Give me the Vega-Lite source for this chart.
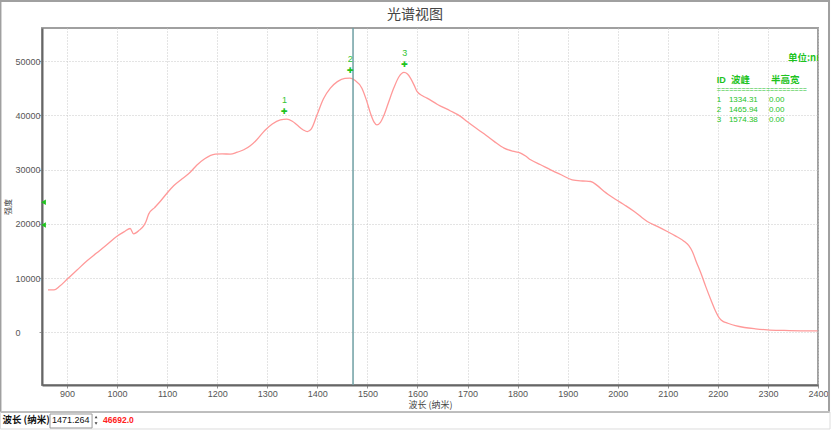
{
  "$schema": "https://vega.github.io/schema/vega-lite/v6.json",
  "width": 776,
  "height": 357,
  "autosize": "none",
  "padding": {"left": 42, "top": 28, "right": 13, "bottom": 45},
  "background": "white",
  "title": {"text": "光谱视图", "fontSize": 14, "font": "Noto Sans CJK SC", "fontWeight": "normal", "color": "#444444", "dx": -15, "offset": -22, "frame": "group"},
  "config": {
    "view": {"stroke": "#a0a0a0", "strokeWidth": 2},
    "text": {"font": "Liberation Sans"}
  },
  "datasets": {
    "spectrum": [
      {"wl": 862, "intensity": 7860}, {"wl": 874, "intensity": 7860}, {"wl": 885, "intensity": 8500},
      {"wl": 899, "intensity": 9700}, {"wl": 920, "intensity": 11500}, {"wl": 940, "intensity": 13200},
      {"wl": 959, "intensity": 14620}, {"wl": 980, "intensity": 16200}, {"wl": 999, "intensity": 17680},
      {"wl": 1015, "intensity": 18600}, {"wl": 1026, "intensity": 19150}, {"wl": 1033, "intensity": 18180},
      {"wl": 1045, "intensity": 18900}, {"wl": 1053, "intensity": 19650}, {"wl": 1058, "intensity": 20500},
      {"wl": 1063, "intensity": 21800}, {"wl": 1075, "intensity": 23000}, {"wl": 1086, "intensity": 24130},
      {"wl": 1100, "intensity": 25700}, {"wl": 1113, "intensity": 27020}, {"wl": 1130, "intensity": 28300},
      {"wl": 1146, "intensity": 29500}, {"wl": 1159, "intensity": 30800}, {"wl": 1175, "intensity": 32000},
      {"wl": 1196, "intensity": 32850}, {"wl": 1210, "intensity": 32900}, {"wl": 1226, "intensity": 32850},
      {"wl": 1240, "intensity": 33200}, {"wl": 1253, "intensity": 33650}, {"wl": 1266, "intensity": 34400},
      {"wl": 1279, "intensity": 35490}, {"wl": 1295, "intensity": 37200}, {"wl": 1310, "intensity": 38400},
      {"wl": 1326, "intensity": 39150}, {"wl": 1339, "intensity": 39300}, {"wl": 1350, "intensity": 38900},
      {"wl": 1359, "intensity": 38250}, {"wl": 1372, "intensity": 37300}, {"wl": 1380, "intensity": 37000},
      {"wl": 1388, "intensity": 37500}, {"wl": 1399, "intensity": 40000}, {"wl": 1412, "intensity": 43000},
      {"wl": 1426, "intensity": 45000}, {"wl": 1440, "intensity": 46200}, {"wl": 1455, "intensity": 46800},
      {"wl": 1465, "intensity": 46850}, {"wl": 1475, "intensity": 46450}, {"wl": 1489, "intensity": 45000},
      {"wl": 1498, "intensity": 42800}, {"wl": 1506, "intensity": 40400}, {"wl": 1513, "intensity": 38800},
      {"wl": 1519, "intensity": 38250}, {"wl": 1526, "intensity": 38700}, {"wl": 1533, "intensity": 40000},
      {"wl": 1543, "intensity": 42600}, {"wl": 1553, "intensity": 45100}, {"wl": 1563, "intensity": 47100},
      {"wl": 1573, "intensity": 47900}, {"wl": 1580, "intensity": 47600}, {"wl": 1586, "intensity": 46850},
      {"wl": 1593, "intensity": 45600}, {"wl": 1599, "intensity": 44400}, {"wl": 1610, "intensity": 43600},
      {"wl": 1619, "intensity": 43170}, {"wl": 1640, "intensity": 42000}, {"wl": 1666, "intensity": 40800},
      {"wl": 1686, "intensity": 39800}, {"wl": 1699, "intensity": 38860}, {"wl": 1716, "intensity": 37700},
      {"wl": 1733, "intensity": 36590}, {"wl": 1753, "intensity": 35200}, {"wl": 1773, "intensity": 33960},
      {"wl": 1790, "intensity": 33400}, {"wl": 1806, "intensity": 33040}, {"wl": 1816, "intensity": 32500},
      {"wl": 1826, "intensity": 31800}, {"wl": 1846, "intensity": 30900}, {"wl": 1866, "intensity": 29960},
      {"wl": 1888, "intensity": 29000}, {"wl": 1909, "intensity": 28120}, {"wl": 1930, "intensity": 27900},
      {"wl": 1946, "intensity": 27810}, {"wl": 1960, "intensity": 27000}, {"wl": 1973, "intensity": 25970},
      {"wl": 1996, "intensity": 24500}, {"wl": 2015, "intensity": 23400}, {"wl": 2033, "intensity": 22290},
      {"wl": 2059, "intensity": 20440}, {"wl": 2080, "intensity": 19500}, {"wl": 2099, "intensity": 18600},
      {"wl": 2115, "intensity": 17800}, {"wl": 2133, "intensity": 16760}, {"wl": 2142, "intensity": 16000},
      {"wl": 2149, "intensity": 14920}, {"wl": 2157, "intensity": 13000}, {"wl": 2166, "intensity": 10940},
      {"wl": 2176, "intensity": 8400}, {"wl": 2186, "intensity": 6020}, {"wl": 2195, "intensity": 4000},
      {"wl": 2203, "intensity": 2650}, {"wl": 2211, "intensity": 2000}, {"wl": 2219, "intensity": 1730},
      {"wl": 2235, "intensity": 1250}, {"wl": 2253, "intensity": 920}, {"wl": 2275, "intensity": 680},
      {"wl": 2299, "intensity": 500}, {"wl": 2330, "intensity": 390}, {"wl": 2366, "intensity": 310},
      {"wl": 2399, "intensity": 300}
    ],
    "peaks": [
      {"id": 1, "wl": 1334.31, "intensity": 39300, "fwhm": 0},
      {"id": 2, "wl": 1465.94, "intensity": 46850, "fwhm": 0},
      {"id": 3, "wl": 1574.38, "intensity": 47950, "fwhm": 0}
    ],
    "edge": [{"level": 24000}, {"level": 19800}]
  },
  "layer": [
    {
      "layer": [
        {
          "data": {"name": "spectrum"},
          "mark": {"type": "line", "color": "#ff9999", "strokeWidth": 1.3, "interpolate": "monotone"},
          "encoding": {
            "x": {"field": "wl", "type": "quantitative",
              "scale": {"domain": [850, 2400], "nice": false, "zero": false},
              "axis": {"title": "波长 (纳米)", "values": [900, 1000, 1100, 1200, 1300, 1400, 1500, 1600, 1700, 1800, 1900, 2000, 2100, 2200, 2300, 2400], "format": "d",
                "labelFontSize": 9, "labelColor": "#555555", "labelFont": "Liberation Sans", "labelFlush": false, "labelPadding": 1,
                "domainColor": "#666666", "domainWidth": 2, "tickColor": "#999999", "tickSize": 3,
                "grid": true, "gridDash": [1, 2], "gridColor": "#c8c8c8",
                "titleFont": "Noto Sans CJK SC", "titleFontSize": 9, "titleFontWeight": "normal", "titleColor": "#444444", "titlePadding": 2}},
            "y": {"field": "intensity", "type": "quantitative",
              "scale": {"domain": [-9670, 56080], "nice": false, "zero": false},
              "axis": {"title": "强度", "values": [0, 10000, 20000, 30000, 40000, 50000], "format": "d",
                "labelFontSize": 9, "labelColor": "#555555", "labelFont": "Liberation Sans", "labelAlign": "left", "labelPadding": 24,
                "domainColor": "#666666", "domainWidth": 2, "tickColor": "#999999", "tickSize": 3,
                "grid": true, "gridDash": [1, 2], "gridColor": "#c8c8c8",
                "titleFont": "Noto Sans CJK SC", "titleFontSize": 8, "titleFontWeight": "normal", "titleColor": "#444444", "titlePadding": 3}}
          }
        },
        {
          "data": {"values": [{}]},
          "mark": {"type": "rect", "filled": false, "stroke": "#a0a0a0", "strokeWidth": 2},
          "encoding": {
            "x": {"datum": 767, "type": "quantitative"}, "x2": {"datum": 2422},
            "y": {"datum": 61053, "type": "quantitative"}, "y2": {"datum": -14641}
          }
        },
        {
          "data": {"values": [{}]},
          "mark": {"type": "rect", "filled": false, "stroke": "#dddddd", "strokeWidth": 1},
          "encoding": {
            "x": {"datum": 767, "type": "quantitative"}, "x2": {"datum": 2424},
            "y": {"datum": -14641, "type": "quantitative"}, "y2": {"datum": -17772}
          }
        },
        {
          "data": {"values": [{}]},
          "mark": {"type": "rule", "color": "#6f9fa3", "strokeWidth": 1.5},
          "encoding": {"x": {"datum": 1471.264, "type": "quantitative"}}
        },
        {
          "data": {"name": "peaks"},
          "mark": {"type": "text", "text": "✚", "font": "DejaVu Sans", "fontSize": 8, "color": "#1ec31e", "dy": -7, "baseline": "middle"},
          "encoding": {"x": {"field": "wl", "type": "quantitative"}, "y": {"field": "intensity", "type": "quantitative"}}
        },
        {
          "data": {"name": "peaks"},
          "mark": {"type": "text", "fontSize": 9, "color": "#33c433", "dy": -19.5, "baseline": "middle"},
          "encoding": {"x": {"field": "wl", "type": "quantitative"}, "y": {"field": "intensity", "type": "quantitative"}, "text": {"field": "id"}}
        },
        {
          "data": {"name": "edge"},
          "mark": {"type": "point", "shape": "triangle-left", "filled": true, "color": "#1ec31e", "size": 30, "opacity": 1},
          "encoding": {"x": {"datum": 853, "type": "quantitative"}, "y": {"field": "level", "type": "quantitative"}}
        },
        {
          "data": {"values": [{}]},
          "mark": {"type": "text", "text": "单位:nm", "font": "Noto Sans CJK SC", "fontSize": 9.5, "fontWeight": "bold", "color": "#1ec31e", "align": "left", "baseline": "middle", "clip": true},
          "encoding": {"x": {"datum": 2340, "type": "quantitative"}, "y": {"datum": 50500, "type": "quantitative"}}
        },
        {
          "data": {"values": [{}]},
          "mark": {"type": "text", "text": "ID", "fontSize": 9, "fontWeight": "bold", "color": "#1ec31e", "align": "left", "baseline": "middle"},
          "encoding": {"x": {"datum": 2198, "type": "quantitative"}, "y": {"datum": 46503, "type": "quantitative"}}
        },
        {
          "data": {"values": [{}]},
          "mark": {"type": "text", "text": "波峰", "font": "Noto Sans CJK SC", "fontSize": 9.5, "fontWeight": "bold", "color": "#1ec31e", "align": "left", "baseline": "middle"},
          "encoding": {"x": {"datum": 2226, "type": "quantitative"}, "y": {"datum": 46503, "type": "quantitative"}}
        },
        {
          "data": {"values": [{}]},
          "mark": {"type": "text", "text": "半高宽", "font": "Noto Sans CJK SC", "fontSize": 9.5, "fontWeight": "bold", "color": "#1ec31e", "align": "left", "baseline": "middle"},
          "encoding": {"x": {"datum": 2306, "type": "quantitative"}, "y": {"datum": 46503, "type": "quantitative"}}
        },
        {
          "data": {"values": [{}]},
          "mark": {"type": "text", "text": "======================", "fontSize": 7, "color": "#1ec31e", "align": "left", "baseline": "middle"},
          "encoding": {"x": {"datum": 2198, "type": "quantitative"}, "y": {"datum": 44661, "type": "quantitative"}}
        },
        {
          "data": {"values": [{}]},
          "mark": {"type": "text", "text": "波长 (纳米)", "font": "Noto Sans CJK SC", "fontSize": 9.5, "fontWeight": "bold", "color": "#111111", "align": "left", "baseline": "middle"},
          "encoding": {"x": {"datum": 771, "type": "quantitative"}, "y": {"datum": -16115, "type": "quantitative"}}
        },
        {
          "data": {"values": [{}]},
          "mark": {"type": "rect", "fill": "white", "stroke": "#9a9a9a", "strokeWidth": 1},
          "encoding": {
            "x": {"datum": 866, "type": "quantitative"}, "x2": {"datum": 950},
            "y": {"datum": -15010, "type": "quantitative"}, "y2": {"datum": -17588}
          }
        },
        {
          "data": {"values": [{}]},
          "mark": {"type": "text", "text": "1471.264", "fontSize": 9, "color": "#111111", "align": "left", "baseline": "middle"},
          "encoding": {"x": {"datum": 870, "type": "quantitative"}, "y": {"datum": -16115, "type": "quantitative"}}
        },
        {
          "data": {"values": [{}]},
          "mark": {"type": "point", "shape": "triangle-up", "filled": true, "color": "#444444", "size": 8, "opacity": 1},
          "encoding": {"x": {"datum": 958, "type": "quantitative"}, "y": {"datum": -15562, "type": "quantitative"}}
        },
        {
          "data": {"values": [{}]},
          "mark": {"type": "point", "shape": "triangle-down", "filled": true, "color": "#444444", "size": 8, "opacity": 1},
          "encoding": {"x": {"datum": 958, "type": "quantitative"}, "y": {"datum": -16759, "type": "quantitative"}}
        },
        {
          "data": {"values": [{}]},
          "mark": {"type": "text", "text": "46692.0", "fontSize": 8.5, "fontWeight": "bold", "color": "#ff2020", "align": "left", "baseline": "middle"},
          "encoding": {"x": {"datum": 972, "type": "quantitative"}, "y": {"datum": -16115, "type": "quantitative"}}
        }
      ]
    },
    {
      "data": {"name": "peaks"},
      "encoding": {
        "y": {"field": "id", "type": "quantitative", "scale": {"domain": [-6.2, 29.5], "reverse": true, "nice": false, "zero": false}, "axis": null}
      },
      "layer": [
        {
          "mark": {"type": "text", "fontSize": 8, "color": "#1ec31e", "align": "left", "baseline": "middle"},
          "encoding": {"x": {"datum": 2198, "type": "quantitative"}, "text": {"field": "id"}}
        },
        {
          "mark": {"type": "text", "fontSize": 8, "color": "#1ec31e", "align": "left", "baseline": "middle"},
          "encoding": {"x": {"datum": 2222, "type": "quantitative"}, "text": {"field": "wl", "format": ".2f"}}
        },
        {
          "mark": {"type": "text", "fontSize": 8, "color": "#1ec31e", "align": "left", "baseline": "middle"},
          "encoding": {"x": {"datum": 2302, "type": "quantitative"}, "text": {"field": "fwhm", "format": ".2f"}}
        }
      ]
    }
  ],
  "resolve": {"scale": {"y": "independent"}}
}
